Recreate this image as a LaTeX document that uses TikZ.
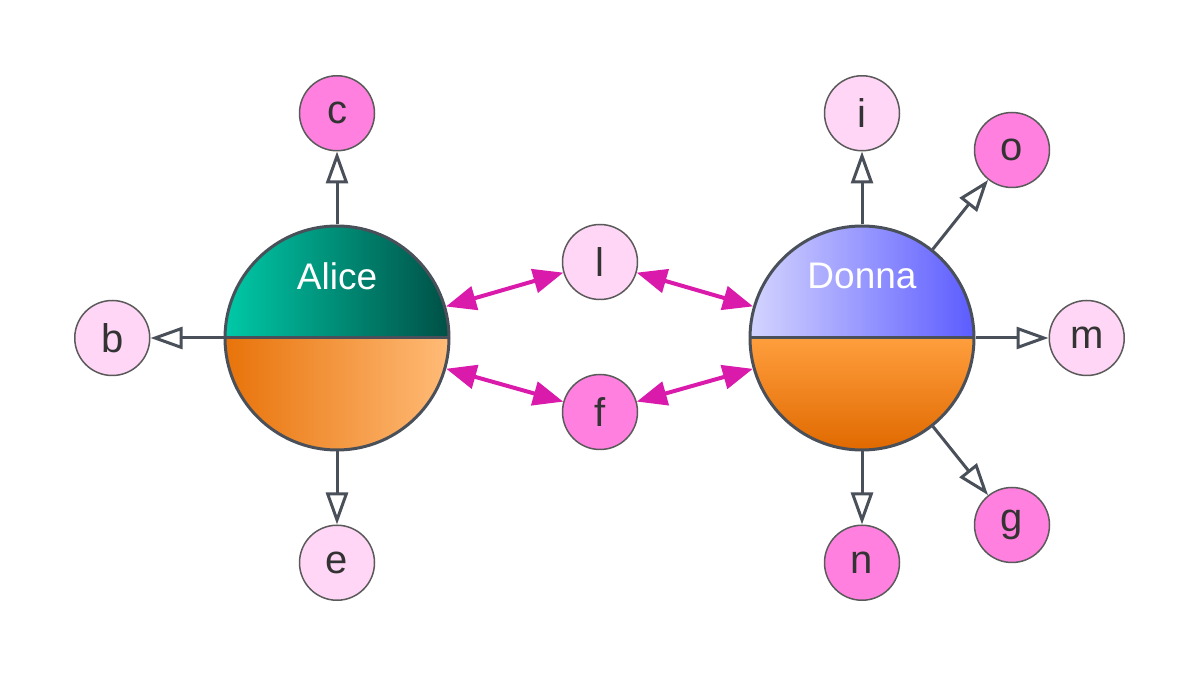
\documentclass[tikz,border=0pt]{standalone}
\usepackage{fontspec}
\setmainfont{Liberation Sans}
\usepackage{xcolor}
\usetikzlibrary{positioning,arrows.meta}
\definecolor{edgegrey}{HTML}{4A5059}
\definecolor{leafgrey}{HTML}{5A5A5A}
\definecolor{textgrey}{HTML}{333333}
\definecolor{linkmag}{HTML}{D91AAB}
\definecolor{pinkdark}{HTML}{FF80DF}
\definecolor{pinklight}{HTML}{FFD6F5}
\definecolor{aliceTL}{HTML}{00C9A7}
\definecolor{aliceTR}{HTML}{005046}
\definecolor{aliceBL}{HTML}{E8730A}
\definecolor{aliceBR}{HTML}{FFBB77}
\definecolor{donnaTL}{HTML}{D4D4FF}
\definecolor{donnaTR}{HTML}{5C5CFF}
\definecolor{donnaBT}{HTML}{FF9E3D}
\definecolor{donnaBB}{HTML}{E06900}

\begin{document}
\begin{tikzpicture}[x=0.5pt,y=0.5pt]
\tikzstyle{person}=[circle, minimum size=112pt, inner sep=0pt, line width=1.5pt, draw=edgegrey]
\tikzstyle{persontext}=[text=white, font=\fontsize{18.5}{22}\selectfont, yshift=31pt]
\tikzstyle{leaf}=[circle, minimum size=37.5pt, inner sep=0pt, line width=0.75pt, draw=leafgrey, text=textgrey, font=\fontsize{20}{24}\selectfont, node distance=36.5pt]
\tikzstyle{connect}=[-{Triangle[open,length=16pt,width=11pt]}, line width=1.5pt, draw=edgegrey]
\tikzstyle{link}=[{Triangle[length=15pt,width=12pt]}-{Triangle[length=15pt,width=12pt]}, line width=2pt, draw=linkmag]
  \useasboundingbox (0,0) rectangle (1200,675);
  \node[person, label={[persontext]center:Alice}, path picture={
      \shade[left color=aliceTL, right color=aliceTR] (path picture bounding box.west) rectangle (path picture bounding box.north east);
      \shade[left color=aliceBL, right color=aliceBR] (path picture bounding box.south west) rectangle (path picture bounding box.east);
      \draw[line width=1.5pt, edgegrey] (path picture bounding box.west) -- (path picture bounding box.east);}] (alice) at (337,337) {};
  \node[person, label={[persontext]center:Donna}, path picture={
      \shade[left color=donnaTL, right color=donnaTR] (path picture bounding box.west) rectangle (path picture bounding box.north east);
      \shade[top color=donnaBT, bottom color=donnaBB] (path picture bounding box.south west) rectangle (path picture bounding box.east);
      \draw[line width=1.5pt, edgegrey] (path picture bounding box.west) -- (path picture bounding box.east);}] (donna) at (862,337) {};
  \node[leaf, fill=pinkdark] (c) [above=of alice] {c};
  \node[leaf, fill=pinklight] (b) [left=of alice] {b};
  \node[leaf, fill=pinklight] (e) [below=of alice] {e};
  \node[leaf, fill=pinklight] (i) [above=of donna] {i};
  \node[leaf, fill=pinklight] (m) [right=of donna] {m};
  \node[leaf, fill=pinkdark] (n) [below=of donna] {n};
  \node[leaf, fill=pinkdark] (o) at (1012,525) {o};
  \node[leaf, fill=pinkdark] (g) at (1012,150) {g};
  \node[leaf, fill=pinklight] (l) at (600,413) {l};
  \node[leaf, fill=pinkdark] (f) at (600,263) {f};
  \path (alice) edge [connect] (c)
        (alice) edge [connect] (b)
        (alice) edge [connect] (e)
        (donna) edge [connect] (i)
        (donna) edge [connect] (o)
        (donna) edge [connect] (m)
        (donna) edge [connect] (g)
        (donna) edge [connect] (n);
  \path (alice) edge [link] (l)
        (alice) edge [link] (f)
        (l) edge [link] (donna)
        (f) edge [link] (donna);
\end{tikzpicture}
\end{document}
